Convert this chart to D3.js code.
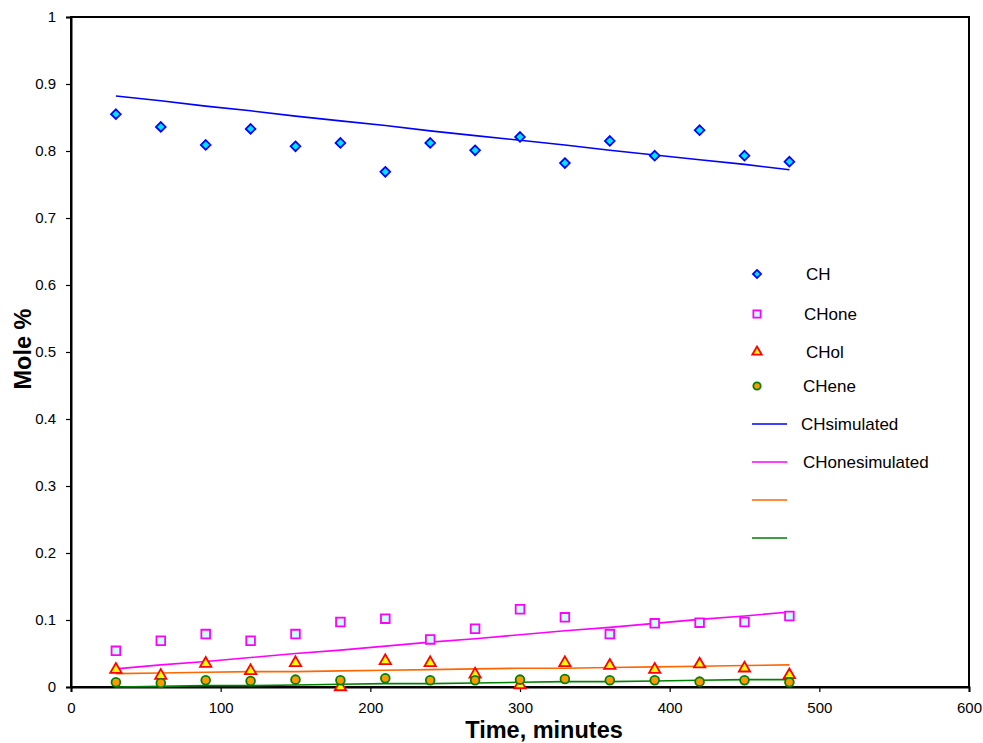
<!DOCTYPE html>
<html>
<head>
<meta charset="utf-8">
<script src="https://cdn.jsdelivr.net/npm/d3@7"></script>
<style>
  body { margin: 0; background: #fff; }
  text { font-family: "Liberation Sans", Arial, sans-serif; }
</style>
</head>
<body>
<script>
var width = 983,
  height = 743;

// time points, minutes
var times = [30, 60, 90, 120, 150, 180, 210, 240, 270, 300, 330, 360, 390, 420, 450, 480];

// measured
var chValues = [0.855, 0.836, 0.809, 0.833, 0.807, 0.812, 0.769, 0.812, 0.801, 0.821, 0.782, 0.815, 0.793, 0.831, 0.793, 0.784];
var choneValues = [0.054, 0.069, 0.079, 0.069, 0.079, 0.097, 0.102, 0.071, 0.087, 0.116, 0.104, 0.079, 0.095, 0.096, 0.097, 0.106];
var cholValues = [0.026, 0.017, 0.035, 0.024, 0.036, 0.0, 0.039, 0.036, 0.019, 0.003, 0.036, 0.032, 0.026, 0.034, 0.028, 0.018];
var cheneValues = [0.007, 0.006, 0.010, 0.009, 0.011, 0.010, 0.013, 0.010, 0.010, 0.011, 0.012, 0.010, 0.010, 0.008, 0.010, 0.007];

// simulated
var chSim = [0.882, 0.875, 0.867, 0.860, 0.852, 0.845, 0.838, 0.830, 0.823, 0.816, 0.809, 0.801, 0.794, 0.787, 0.780, 0.772];
var choneSim = [0.027, 0.033, 0.038, 0.044, 0.050, 0.055, 0.061, 0.067, 0.072, 0.078, 0.084, 0.089, 0.095, 0.101, 0.106, 0.112];
var cholSim = [0.020, 0.021, 0.022, 0.023, 0.023, 0.024, 0.025, 0.026, 0.027, 0.028, 0.028, 0.029, 0.030, 0.031, 0.032, 0.033];
var cheneSim = [0.000, 0.001, 0.002, 0.002, 0.003, 0.004, 0.005, 0.005, 0.006, 0.007, 0.008, 0.008, 0.009, 0.010, 0.011, 0.011];

var xTicks = [0, 100, 200, 300, 400, 500, 600];
var yTicks = [0, 0.1, 0.2, 0.3, 0.4, 0.5, 0.6, 0.7, 0.8, 0.9, 1];

var margin = { left: 71, right: 14, top: 17, bottom: 56 };

var x = d3.scaleLinear()
  .domain([0, 600])
  .range([margin.left, width - margin.right]);

var y = d3.scaleLinear()
  .domain([0, 1])
  .range([height - margin.bottom, margin.top]);

var svg = d3.select("body").append("svg")
  .attr("width", width)
  .attr("height", height);

// frame
svg.append("rect")
  .attr("x", x(0))
  .attr("y", y(1))
  .attr("width", x(600) - x(0))
  .attr("height", y(0) - y(1))
  .attr("fill", "none")
  .attr("stroke", "#000")
  .attr("stroke-width", 2);

var xAxis = d3.axisBottom(x)
  .tickValues(xTicks)
  .tickSize(5)
  .tickPadding(10)
  .tickFormat(d3.format("d"));

var yAxis = d3.axisLeft(y)
  .tickValues(yTicks)
  .tickSize(5)
  .tickPadding(10)
  .tickFormat(function(d) { return d === 0 || d === 1 ? d : d3.format(".1f")(d); });

var gx = svg.append("g")
  .attr("transform", "translate(0," + y(0) + ")")
  .call(xAxis);

var gy = svg.append("g")
  .attr("transform", "translate(" + x(0) + ",0)")
  .call(yAxis);

[gx, gy].forEach(function(g) {
  g.select(".domain").attr("stroke", "#000").attr("stroke-width", 2);
  g.selectAll(".tick line").attr("stroke", "#000").attr("stroke-width", 1.2);
  g.selectAll(".tick text")
    .attr("font-family", "Liberation Sans, Arial, sans-serif")
    .attr("font-size", "15px")
    .attr("fill", "#000");
});

// axis titles
svg.append("text")
  .attr("x", 544)
  .attr("y", 738)
  .attr("text-anchor", "middle")
  .attr("font-size", "23.5px")
  .attr("font-weight", "bold")
  .text("Time, minutes");

svg.append("text")
  .attr("transform", "translate(31,349) rotate(-90)")
  .attr("text-anchor", "middle")
  .attr("font-size", "23.5px")
  .attr("font-weight", "bold")
  .text("Mole %");

// simulated lines
var simSeries = [
  { values: chSim, color: "#0000ff" },
  { values: choneSim, color: "#ff00ff" },
  { values: cholSim, color: "#ff6600" },
  { values: cheneSim, color: "#008000" }
];

var line = d3.line()
  .x(function(d) { return x(d[0]); })
  .y(function(d) { return y(d[1]); });

svg.append("g").selectAll("path")
  .data(simSeries)
  .enter().append("path")
    .attr("fill", "none")
    .attr("stroke", function(d) { return d.color; })
    .attr("stroke-width", 1.6)
    .attr("d", function(d) { return line(d3.zip(times, d.values)); });

// markers
var measured = [
  { values: chValues, shape: d3.symbolDiamond2, size: 60, fill: "#00e5ff", stroke: "#0000ff" },
  { values: choneValues, shape: d3.symbolSquare, size: 75, fill: "#ccffff", stroke: "#ff00ff" },
  { values: cholValues, shape: d3.symbolTriangle, size: 55, fill: "#ffff00", stroke: "#ff0000" },
  { values: cheneValues, shape: d3.symbolCircle, size: 60, fill: "#ff9900", stroke: "#008000" }
];

measured.forEach(function(s) {
  var sym = d3.symbol().type(s.shape).size(s.size);
  svg.append("g").selectAll("path")
    .data(d3.zip(times, s.values))
    .enter().append("path")
      .attr("transform", function(d) { return "translate(" + x(d[0]) + "," + y(d[1]) + ")"; })
      .attr("d", sym)
      .attr("fill", s.fill)
      .attr("stroke", s.stroke)
      .attr("stroke-width", 1.8);
});

// legend
var legendItems = [
  { label: "CH", kind: "marker", s: measured[0], y: 274, tx: 806 },
  { label: "CHone", kind: "marker", s: measured[1], y: 314, tx: 804 },
  { label: "CHol", kind: "marker", s: measured[2], y: 352, tx: 806 },
  { label: "CHene", kind: "marker", s: measured[3], y: 386, tx: 803 },
  { label: "CHsimulated", kind: "line", s: simSeries[0], y: 424, tx: 801 },
  { label: "CHonesimulated", kind: "line", s: simSeries[1], y: 462, tx: 803 },
  { label: "", kind: "line", s: simSeries[2], y: 500, tx: 803 },
  { label: "", kind: "line", s: simSeries[3], y: 538, tx: 803 }
];

var legend = svg.append("g");

legendItems.forEach(function(it) {
  if (it.kind === "marker") {
    legend.append("path")
      .attr("transform", "translate(757," + it.y + ")")
      .attr("d", d3.symbol().type(it.s.shape).size(it.s.size * 0.7))
      .attr("fill", it.s.fill)
      .attr("stroke", it.s.stroke)
      .attr("stroke-width", 1.8);
  } else {
    legend.append("line")
      .attr("x1", 752).attr("x2", 787)
      .attr("y1", it.y).attr("y2", it.y)
      .attr("stroke", it.s.color)
      .attr("stroke-width", 1.6);
  }
  legend.append("text")
    .attr("x", it.tx)
    .attr("y", it.y + 6)
    .attr("font-size", "17px")
    .attr("fill", "#000")
    .text(it.label);
});
</script>
</body>
</html>
